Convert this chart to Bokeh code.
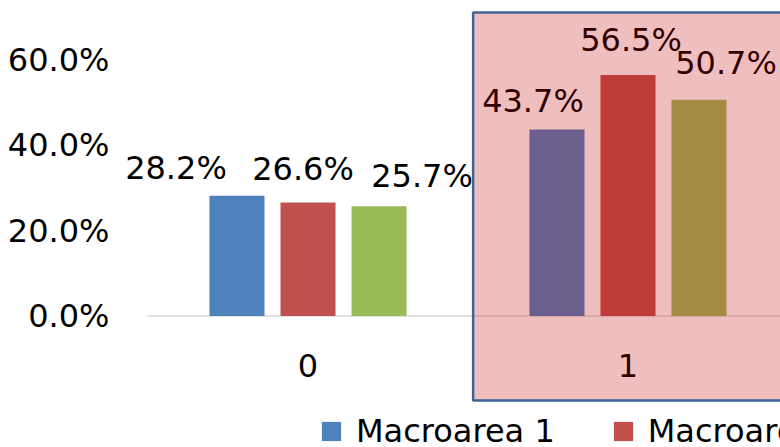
from bokeh.plotting import figure
from bokeh.models import (Range1d, FixedTicker, NumeralTickFormatter, BoxAnnotation,
                          Legend, LegendItem, ColumnDataSource, LabelSet)
from bokeh.core.properties import value
from bokeh.embed import file_html
from bokeh.resources import INLINE

# ---- data ----
categories = ["0", "1"]
series_names = ["Macroarea 1", "Macroarea 2", "Macroarea 3"]
macroarea_1 = [0.282, 0.437]
macroarea_2 = [0.266, 0.565]
macroarea_3 = [0.257, 0.507]
y_ticks = [0.0, 0.2, 0.4, 0.6]
highlight_category = 1

# ---- style ----
colors = ["#4F81BD", "#C0504D", "#9BBB59"]
FONT = "DejaVu Sans"
FS = "32px"
bar_offsets = [-0.222, 0.0, 0.222]
bar_width = 0.172
# pixel nudges of the data labels (as placed in the original)
label_dx = [[-61, -24], [-5, 3], [43, 27]]
label_dy = [[28, 29], [33, 35], [30, 37]]

X_START = -0.586      # a little room left of the plot area for the first label
AREA_START = -0.5016  # where the category axis line begins

p = figure(width=780, height=447, output_backend="svg", toolbar_location=None,
           x_range=Range1d(X_START, 1.4766), y_range=Range1d(-0.3082, 0.7394),
           min_border_left=120, min_border_right=0, min_border_top=0, min_border_bottom=0)
p.outline_line_color = None
p.xgrid.visible = False
p.ygrid.visible = False
p.background_fill_color = "white"
p.border_fill_color = "white"

# category axis line
p.segment(x0=[AREA_START], y0=[0], x1=[p.x_range.end], y1=[0],
          line_color="#d9d9d9", line_width=1.5)

values = [macroarea_1, macroarea_2, macroarea_3]
xs_idx = list(range(len(categories)))
renderers = []
for s, vals in enumerate(values):
    xs = [i + bar_offsets[s] for i in xs_idx]
    src = ColumnDataSource(dict(x=xs, top=vals,
                                lab=[f"{v*100:.1f}%" for v in vals],
                                dx=label_dx[s], dy=label_dy[s]))
    r = p.vbar(x="x", top="top", bottom=0, width=bar_width, source=src,
               fill_color=colors[s], line_color=None)
    renderers.append(r)
    labels = LabelSet(x="x", y="top", text="lab", source=src, x_offset="dx", y_offset="dy",
                      text_align="center", text_baseline="middle",
                      text_font=value(FONT), text_font_size=value(FS), text_color="black")
    p.add_layout(labels)

# y axis
yax = p.yaxis[0]
yax.ticker = FixedTicker(ticks=y_ticks)
yax.formatter = NumeralTickFormatter(format="0.0%")
yax.axis_line_color = None
yax.major_tick_line_color = None
yax.minor_tick_line_color = None
yax.major_tick_out = 0
yax.major_tick_in = 0
yax.major_label_standoff = 11
yax.major_label_text_font = FONT
yax.major_label_text_font_size = FS
yax.major_label_text_color = "black"

# x axis at y=0
xax = p.xaxis[0]
xax.fixed_location = 0
xax.ticker = FixedTicker(ticks=xs_idx)
xax.major_label_overrides = {i: c for i, c in zip(xs_idx, categories)}
xax.axis_line_color = None
xax.major_tick_line_color = None
xax.minor_tick_line_color = None
xax.major_tick_out = 0
xax.major_tick_in = 0
xax.major_label_standoff = 38
xax.major_label_text_font = FONT
xax.major_label_text_font_size = FS
xax.major_label_text_color = "black"

# highlight box over category 1
box = BoxAnnotation(left=highlight_category - 0.484, right=highlight_category + 1.0,
                    top=0.711, bottom=-0.198,
                    fill_color="#bf0000", fill_alpha=0.25,
                    line_color="#3f6396", line_width=2.5, line_alpha=1.0)
p.add_layout(box)

legend = Legend(items=[LegendItem(label=n, renderers=[r]) for n, r in zip(series_names, renderers)],
                orientation="horizontal", location=(199, -3),
                glyph_width=24, glyph_height=24, label_standoff=13, spacing=56,
                padding=0, margin=0, border_line_color=None, background_fill_alpha=0,
                label_text_font=FONT, label_text_font_size=FS, label_text_color="black")
p.add_layout(legend, "center")

open("out.html", "w").write(file_html(p, INLINE))
